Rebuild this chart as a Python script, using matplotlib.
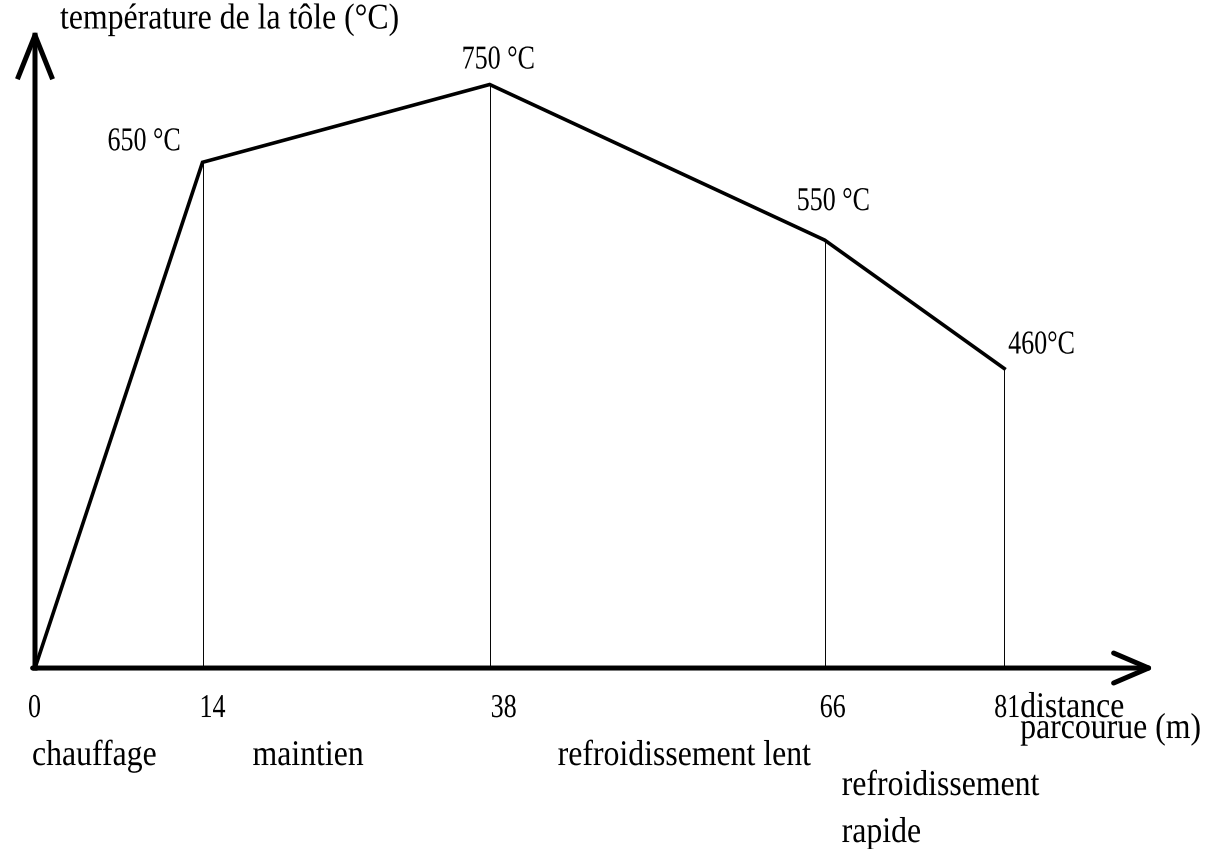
import numpy as np
import matplotlib
matplotlib.use("Agg")
import matplotlib.pyplot as plt
from matplotlib.patheffects import AbstractPathEffect
from matplotlib.transforms import Affine2D

dist = [0, 14, 38, 66, 81]                      # m
temp_drawn = [0, 650, 750, 550, 385]            # drawn height (last point is not to scale)
temp_labels = ["", "650 °C", "750 °C", "550 °C", "460°C"]
tick_labels = ["0", "14", "38", "66", "81"]
phases = ["chauffage", "maintien", "refroidissement lent", "refroidissement", "rapide"]
phase_start = [0, 14, 38, 66, 66]


class Squeeze(AbstractPathEffect):
    """Narrow the glyphs horizontally (the scan uses a tall condensed face)."""

    def __init__(self, sx):
        super().__init__()
        self._sx = sx

    def draw_path(self, renderer, gc, tpath, affine, rgbFace=None):
        renderer.draw_path(gc, tpath, Affine2D().scale(self._sx, 1) + affine, rgbFace)


plt.rcParams["font.family"] = ["Liberation Serif", "DejaVu Serif"]
WORDS = dict(fontsize=26, path_effects=[Squeeze(0.88)])
NUMS = dict(fontsize=24, path_effects=[Squeeze(0.78)])

fig = plt.figure(figsize=(12.21, 8.49), dpi=100)
ax = fig.add_axes([0, 0, 1, 1])
ax.set_xlim(-2.925, 99.12)
ax.set_ylim(-232.6, 858.6)
ax.set_axis_off()


def label(txt, x, y, dx, dy, style):
    ax.annotate(txt, xy=(x, y), xytext=(dx, dy), textcoords="offset pixels",
                ha="left", va="baseline", annotation_clip=False, **style)


# axes drawn as arrows
ax.annotate("", xy=(0, 822), xytext=(0, 0),
            arrowprops=dict(arrowstyle="->,head_length=1.0,head_width=0.4",
                            lw=3.6, color="black", shrinkA=0, shrinkB=0,
                            mutation_scale=30, capstyle="projecting"))
ax.annotate("", xy=(93.6, 0), xytext=(-0.2, 0),
            arrowprops=dict(arrowstyle="->,head_length=0.84,head_width=0.36",
                            lw=3.6, color="black", shrinkA=0, shrinkB=0,
                            mutation_scale=30))

# temperature profile
ax.plot(dist, temp_drawn, color="black", lw=2.6, solid_joinstyle="miter")
ax.vlines(dist[1:], 0, temp_drawn[1:], color="black", lw=0.7)

# value labels
val_offsets = [None, (-95, 12), (-28, 16), (-28, 30), (4, 15)]
for x, y, lab, off in zip(dist, temp_drawn, temp_labels, val_offsets):
    if off is not None:
        label(lab, x, y, off[0], off[1], NUMS)

# distance tick labels
tick_dx = [-7, -3, 1, -5, -10]
for x, lab, dx in zip(dist, tick_labels, tick_dx):
    label(lab, x, 0, dx, -49, NUMS)

# phase names
phase_dx = [-3, 50, 68, 17, 17]
phase_dy = [-97, -97, -97, -127, -174]
for x, lab, dx, dy in zip(phase_start, phases, phase_dx, phase_dy):
    label(lab, x, 0, dx, dy, WORDS)

# axis titles
label("température de la tôle (°C)", 0, 822, 25, 0, WORDS)
label("distance", dist[-1], 0, 16, -49, WORDS)
label("parcourue (m)", dist[-1], 0, 16, -70, WORDS)

fig.savefig("out.png", dpi=100)
